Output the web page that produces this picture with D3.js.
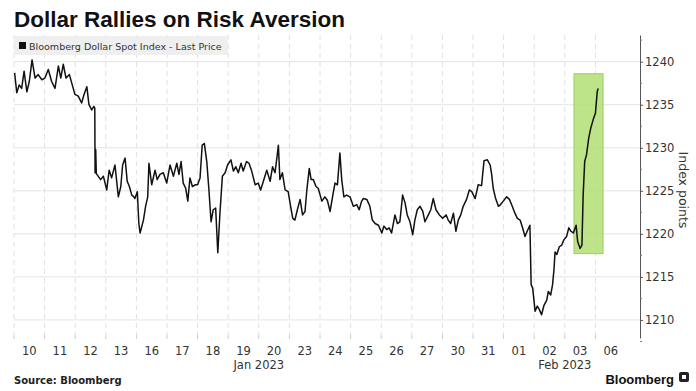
<!DOCTYPE html>
<html>
<head>
<meta charset="utf-8">
<script src="https://cdn.jsdelivr.net/npm/d3@7"></script>
<style>
  body { margin: 0; background: #fff; }
  svg { display: block; }
  text { fill: #333; }
</style>
</head>
<body>
<svg id="chart" width="696" height="391"></svg>
<script>
// trading days shown on the x axis (one slot each)
var dayLabels = ["10", "11", "12", "13", "16", "17", "18", "19", "20", "23",
   "24", "25", "26", "27", "30", "31", "01", "02", "03", "06"];
var monthLabels = ["Jan 2023", "Feb 2023"];
var monthAt = [8, 18]; // slot boundary under which the month name sits

var yTicks = [1210, 1215, 1220, 1225, 1230, 1235, 1240];
var yMinor = [1207.5, 1212.5, 1217.5, 1222.5, 1227.5, 1232.5, 1237.5, 1242.5];

// intraday series: time in trading-day slots, index value
var seriesT = [0.02, 0.09, 0.17, 0.25, 0.33, 0.42, 0.50, 0.59, 0.69, 0.79, 0.91,
   1.01, 1.12, 1.23, 1.34, 1.45, 1.53, 1.61, 1.70, 1.81, 1.92, 1.99,
   2.10, 2.21, 2.29, 2.38, 2.45, 2.54, 2.61, 2.64, 2.65, 2.67, 2.69, 2.83, 2.92,
   3.03, 3.11, 3.19, 3.30, 3.41, 3.49, 3.55, 3.63, 3.70, 3.77, 3.85, 3.92, 3.95,
   4.03, 4.08, 4.12, 4.23, 4.30, 4.37, 4.41, 4.50, 4.61, 4.68, 4.77, 4.88, 4.99,
   5.10, 5.21, 5.32, 5.39, 5.46, 5.53, 5.61, 5.68, 5.75, 5.83, 5.92, 6.00,
   6.08, 6.15, 6.22, 6.30, 6.37, 6.44, 6.51, 6.59, 6.66, 6.73, 6.81, 6.90, 6.98,
   7.09, 7.17, 7.25, 7.33, 7.42, 7.49, 7.60, 7.68, 7.76, 7.88, 7.98,
   8.06, 8.15, 8.26, 8.37, 8.45, 8.53, 8.59, 8.64, 8.69, 8.77, 8.86, 8.96,
   9.04, 9.11, 9.18, 9.26, 9.35, 9.43, 9.51, 9.57, 9.65, 9.71, 9.78, 9.87, 9.94,
   10.06, 10.16, 10.24, 10.33, 10.42, 10.49, 10.57, 10.65, 10.71, 10.78, 10.87, 10.98,
   11.09, 11.20, 11.28, 11.36, 11.42, 11.53, 11.63, 11.71, 11.80, 11.91,
   12.02, 12.09, 12.18, 12.26, 12.34, 12.45, 12.53, 12.61, 12.70, 12.78, 12.85, 12.94,
   13.03, 13.10, 13.18, 13.27, 13.36, 13.43, 13.54, 13.62, 13.70, 13.79, 13.90,
   14.01, 14.12, 14.19, 14.27, 14.36, 14.44, 14.52, 14.60, 14.68, 14.79, 14.88, 14.96,
   15.07, 15.17, 15.28, 15.36, 15.47, 15.56, 15.61, 15.66, 15.74, 15.83, 15.90, 15.99,
   16.10, 16.19, 16.26, 16.37, 16.45, 16.54, 16.62, 16.70, 16.77, 16.86, 16.90, 16.95,
   17.03, 17.10, 17.17, 17.24, 17.32, 17.41, 17.46, 17.54, 17.60, 17.65, 17.68, 17.74,
   17.82, 17.90, 17.97, 18.06, 18.13, 18.20, 18.28, 18.37, 18.42, 18.50, 18.56,
   18.60, 18.65, 18.71, 18.78, 18.85, 18.93, 19.00, 19.06, 19.09];
var seriesV = [1238.7, 1236.4, 1237.3, 1236.9, 1238.9, 1236.5, 1237.7, 1240.2, 1238.1, 1238.5, 1237.9,
   1238.1, 1239.1, 1237.7, 1236.9, 1239.5, 1238.1, 1239.7, 1238.1, 1238.5, 1237.1, 1236.2,
   1236.0, 1235.2, 1236.2, 1237.1, 1235.0, 1234.4, 1234.8, 1234.6, 1227.1, 1229.8, 1227.0, 1226.3, 1226.7,
   1225.1, 1227.4, 1226.5, 1228.0, 1224.3, 1225.5, 1228.0, 1228.8, 1226.1, 1225.5, 1224.5, 1224.3, 1224.1,
   1224.9, 1221.2, 1220.1, 1221.6, 1223.2, 1224.3, 1228.2, 1225.7, 1227.4, 1226.3, 1226.9, 1227.1, 1225.9,
   1228.0, 1226.7, 1228.2, 1226.9, 1228.4, 1225.9, 1225.3, 1223.8, 1226.5, 1225.5, 1225.7, 1225.7,
   1226.5, 1230.3, 1230.5, 1228.4, 1225.1, 1221.4, 1222.8, 1223.0, 1217.8, 1222.4, 1226.7, 1227.1, 1228.0,
   1228.6, 1227.3, 1227.8, 1227.1, 1228.2, 1227.3, 1228.4, 1228.2, 1227.4, 1225.7, 1225.9,
   1225.1, 1226.1, 1227.4, 1226.1, 1227.8, 1227.1, 1228.8, 1230.3, 1226.3, 1227.1, 1225.1, 1224.9,
   1223.2, 1221.8, 1221.6, 1222.8, 1224.0, 1222.2, 1222.6, 1225.1, 1227.6, 1226.3, 1226.3, 1225.5, 1225.3,
   1223.8, 1224.3, 1223.9, 1222.6, 1224.5, 1225.9, 1225.7, 1229.4, 1226.3, 1224.3, 1224.5, 1224.3,
   1223.2, 1223.4, 1222.8, 1223.8, 1224.1, 1224.0, 1223.2, 1221.6, 1221.2, 1221.0,
   1220.1, 1220.9, 1220.5, 1220.7, 1220.1, 1222.2, 1221.2, 1221.4, 1224.5, 1223.6, 1222.2, 1221.4,
   1219.9, 1221.6, 1222.8, 1223.2, 1222.6, 1221.4, 1222.2, 1222.8, 1224.1, 1222.8, 1222.2,
   1221.8, 1222.2, 1221.6, 1221.2, 1222.4, 1220.3, 1221.6, 1222.2, 1223.2, 1224.0, 1225.1, 1224.9,
   1224.1, 1225.7, 1225.6, 1228.5, 1228.6, 1228.0, 1226.9, 1225.3, 1224.1, 1223.2, 1223.4, 1223.8,
   1224.3, 1224.0, 1223.4, 1222.4, 1221.8, 1221.6, 1220.7, 1219.7, 1220.3, 1221.0, 1214.1, 1213.7,
   1211.0, 1211.6, 1211.2, 1210.6, 1211.7, 1212.3, 1213.3, 1212.9, 1214.1, 1216.0, 1217.9, 1217.6,
   1218.5, 1218.7, 1219.3, 1219.7, 1220.7, 1220.3, 1220.1, 1221.0, 1219.1, 1218.3, 1218.7,
   1224.5, 1228.4, 1229.2, 1231.1, 1232.3, 1233.3, 1234.0, 1236.5, 1236.9];

// highlighted rally window (slot range, value range)
var highlightT = [18.3, 19.25];
var highlightV = [1217.7, 1238.6];

var svg = d3.select("svg#chart");

var x = d3.scaleLinear().domain([0, dayLabels.length]).range([14, 626]);
var y = d3.scaleLinear().domain([1207.9, 1243.1]).range([338, 35]);
var plotRight = 640;

// Title
var title = svg.append("text")
   .attr("x", 14).attr("y", 27)
   .style("font-family", "'Liberation Sans', Arial, sans-serif")
   .style("font-weight", "bold")
   .style("font-size", "22px")
   .style("fill", "#111")
   .text("Dollar Rallies on Risk Aversion");
var tw = title.node().getComputedTextLength();
title.style("font-size", (22 * 331 / tw) + "px");

// horizontal grid
svg.append("g")
   .selectAll("line")
   .data(yTicks)
   .enter()
   .append("line")
   .attr("x1", 14).attr("x2", plotRight)
   .attr("y1", d => y(d)).attr("y2", d => y(d))
   .attr("stroke", "#e4e4e4").attr("stroke-width", 1);

// vertical dashed grid at slot boundaries
var bounds = d3.range(0, dayLabels.length);
svg.append("g")
   .selectAll("line")
   .data(bounds)
   .enter()
   .append("line")
   .attr("x1", d => x(d)).attr("x2", d => x(d))
   .attr("y1", 35).attr("y2", 335)
   .attr("stroke", "#e0e0e0").attr("stroke-width", 1)
   .attr("stroke-dasharray", "5,4");

// legend box
var legend = svg.append("g");
legend.append("rect")
   .attr("x", 14).attr("y", 36).attr("width", 214).attr("height", 19)
   .attr("fill", "#efefef");
legend.append("rect")
   .attr("x", 19).attr("y", 42).attr("width", 7).attr("height", 7)
   .attr("fill", "#111");
var legText = legend.append("text")
   .attr("x", 29).attr("y", 50)
   .style("font-family", "'DejaVu Sans', Verdana, sans-serif")
   .style("font-size", "11px")
   .style("fill", "#333")
   .text("Bloomberg Dollar Spot Index - Last Price");
var lw = legText.node().getComputedTextLength();
legText.style("font-size", (11 * 193 / lw) + "px");

// highlight window
svg.append("rect")
   .attr("x", x(highlightT[0]))
   .attr("y", y(highlightV[1]))
   .attr("width", x(highlightT[1]) - x(highlightT[0]))
   .attr("height", y(highlightV[0]) - y(highlightV[1]))
   .attr("fill", "#b3df76")
   .attr("fill-opacity", 0.85)
   .attr("stroke", "#9ccd5e")
   .attr("stroke-width", 1);

// the line
var points = seriesT.map((t, i) => [t, seriesV[i]]);
var line = d3.line()
   .x(d => x(d[0]))
   .y(d => y(d[1]));
svg.append("path")
   .datum(points)
   .attr("d", line)
   .attr("fill", "none")
   .attr("stroke", "#111")
   .attr("stroke-width", 1.5)
   .attr("stroke-linejoin", "round");

// x axis: tick marks at boundaries, labels centred in slot
var xAxisG = svg.append("g");
xAxisG.selectAll("line")
   .data(bounds)
   .enter()
   .append("line")
   .attr("x1", d => x(d)).attr("x2", d => x(d))
   .attr("y1", 335).attr("y2", 339)
   .attr("stroke", "#ccc");
xAxisG.selectAll("text.day")
   .data(dayLabels)
   .enter()
   .append("text")
   .attr("class", "day")
   .attr("x", (d, i) => x(i + 0.5))
   .attr("y", 355)
   .attr("text-anchor", "middle")
   .style("font-family", "'DejaVu Sans', Verdana, sans-serif")
   .style("font-size", "11.5px")
   .text(d => d);
xAxisG.selectAll("text.month")
   .data(monthLabels)
   .enter()
   .append("text")
   .attr("class", "month")
   .attr("x", (d, i) => x(monthAt[i]))
   .attr("y", 369)
   .attr("text-anchor", "middle")
   .style("font-family", "'DejaVu Sans', Verdana, sans-serif")
   .style("font-size", "11.5px")
   .text(d => d);

// y axis on the right
var yAxis = d3.axisRight(y)
   .tickValues(yTicks)
   .tickSize(3)
   .tickSizeOuter(0)
   .tickFormat(d3.format("d"));
var yAxisG = svg.append("g")
   .attr("transform", "translate(" + plotRight + ",0)")
   .call(yAxis);
yAxisG.select(".domain").attr("stroke", "#555");
yAxisG.selectAll(".tick line").attr("stroke", "#555");
yAxisG.selectAll(".tick text")
   .attr("x", 5)
   .style("font-family", "'DejaVu Sans', Verdana, sans-serif")
   .style("font-size", "11.5px")
   .style("fill", "#333");
yAxisG.selectAll("line.minor")
   .data(yMinor)
   .enter()
   .append("line")
   .attr("class", "minor")
   .attr("x1", 0).attr("x2", 2)
   .attr("y1", d => y(d)).attr("y2", d => y(d))
   .attr("stroke", "#777");

svg.append("text")
   .attr("transform", "translate(679,190) rotate(90)")
   .attr("text-anchor", "middle")
   .style("font-family", "'DejaVu Sans', Verdana, sans-serif")
   .style("font-size", "12.5px")
   .text("Index points");

// footer
svg.append("text")
   .attr("x", 14).attr("y", 384)
   .style("font-family", "'DejaVu Sans', Verdana, sans-serif")
   .style("font-weight", "bold")
   .style("font-size", "10px")
   .style("fill", "#222")
   .text("Source: Bloomberg");

svg.append("text")
   .attr("x", 674).attr("y", 384)
   .attr("text-anchor", "end")
   .style("font-family", "'Liberation Sans', Arial, sans-serif")
   .style("font-weight", "bold")
   .style("font-size", "13px")
   .style("fill", "#111")
   .text("Bloomberg");
svg.append("rect")
   .attr("x", 679).attr("y", 372).attr("width", 10).attr("height", 10)
   .attr("rx", 2)
   .attr("fill", "#222");
svg.append("rect")
   .attr("x", 682).attr("y", 375).attr("width", 4).attr("height", 4)
   .attr("fill", "#fff");
</script>
</body>
</html>
